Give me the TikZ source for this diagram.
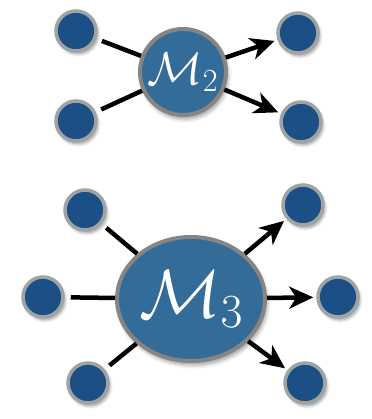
\RequirePackage{fix-cm}
\documentclass[tikz,border=0pt]{standalone}
\usetikzlibrary{shapes.geometric,arrows.meta,shadows.blur}
\definecolor{dotblue}{HTML}{1B4F86}
\definecolor{dotrim}{HTML}{9EA3A3}
\definecolor{bigblue}{HTML}{336B99}
\definecolor{bigrim}{HTML}{858585}
\tikzset{
  dot/.style={circle, minimum size=40pt, inner sep=0pt, fill=dotblue, draw=dotrim, line width=3.5pt,
    blur shadow={shadow xshift=2pt, shadow yshift=-3pt, shadow blur steps=6, shadow blur radius=3pt}},
  model/.style={circle, inner sep=0pt, fill=bigblue, draw=bigrim, line width=4pt, text=white,
    blur shadow={shadow xshift=2pt, shadow yshift=-4pt, shadow blur steps=6, shadow blur radius=4pt}},
  inlink/.style={line width=4.5pt, shorten <=6pt},
  outlink/.style={line width=4.5pt, shorten >=3pt, -{Stealth[length=24pt,width=22pt,inset=7pt]}}
}
\begin{document}
\begin{tikzpicture}[x=1pt,y=-1pt]
\useasboundingbox (0,0) rectangle (371,419);
% top
\node[model, minimum size=86pt, font=\fontsize{46}{50}\selectfont] (m2) at (183,72) {$\mathcal{M}_2$};
\node[dot] (a1) at (76,31) {};
\node[dot] (a2) at (76,121) {};
\node[dot] (b1) at (298,33) {};
\node[dot] (b2) at (301,122) {};
\draw[inlink] (a1) -- (m2);
\draw[inlink] (a2) -- (m2);
\draw[outlink] (m2) -- (b1);
\draw[outlink] (m2) -- (b2);
% bottom
\node[model, ellipse, minimum width=148pt, minimum height=124pt, font=\fontsize{68}{72}\selectfont] (m3) at (191,299) {$\mathcal{M}_3$};
\node[dot] (c1) at (85,210) {};
\node[dot] (c2) at (43,297) {};
\node[dot] (c3) at (88,383) {};
\node[dot] (d1) at (303,205) {};
\node[dot] (d2) at (338,297) {};
\node[dot] (d3) at (305,383) {};
\draw[inlink] (c1) -- (m3);
\draw[inlink] (c2) -- (m3);
\draw[inlink] (c3) -- (m3);
\draw[outlink] (m3) -- (d1);
\draw[outlink] (m3) -- (d2);
\draw[outlink] (m3) -- (d3);
\end{tikzpicture}
\end{document}
